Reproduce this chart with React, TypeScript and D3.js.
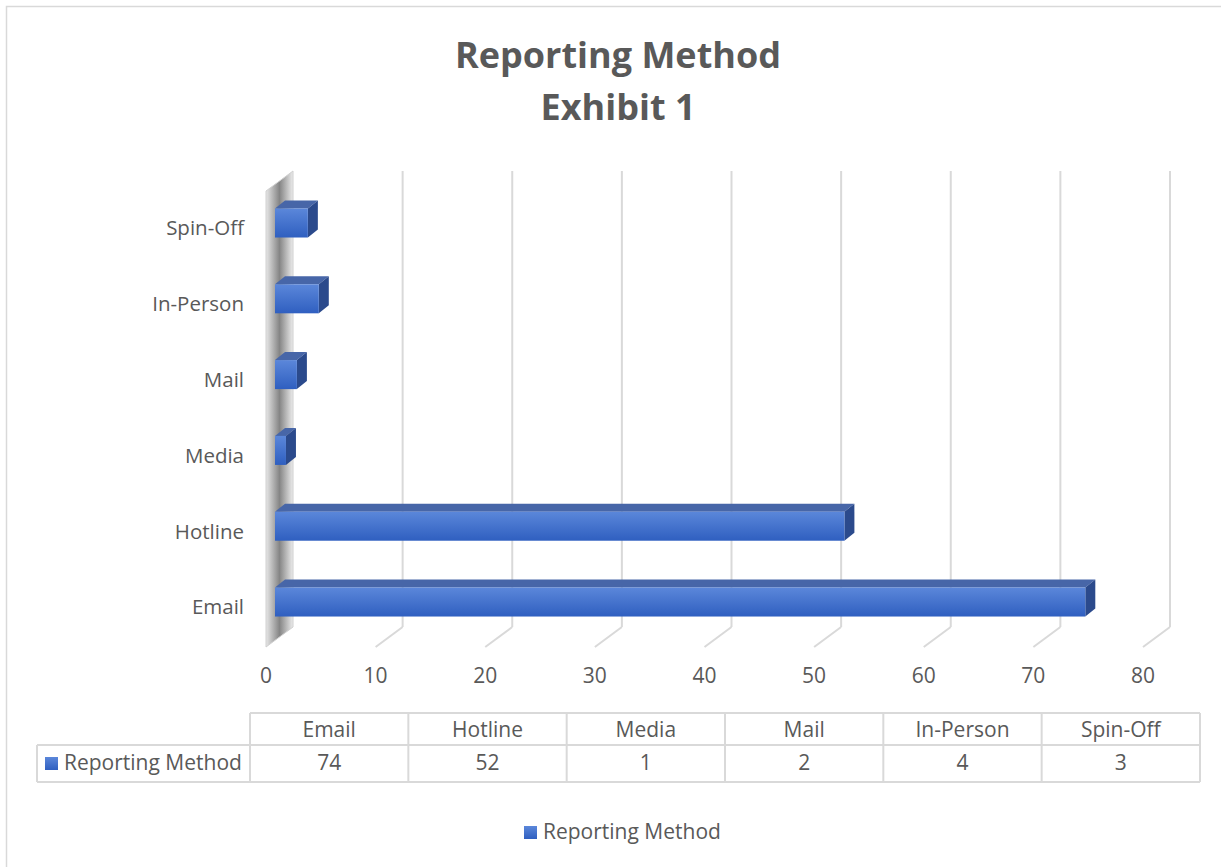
import React from "react";
import * as d3 from "d3";

const categories = ["Email", "Hotline", "Media", "Mail", "In-Person", "Spin-Off"];
const values = [74, 52, 1, 2, 4, 3];
const seriesName = "Reporting Method";
const ticks = [0, 10, 20, 30, 40, 50, 60, 70, 80];
const titleLines = ["Reporting Method", "Exhibit 1"];

const W = 1221;
const H = 867;
const FONT = "'Open Sans', Lato, sans-serif";
const TEXT = "#595959";
const GRID = "#d9d9d9";

// 3d offsets: front plane relative to back wall
const DX = -27;
const DY = 20;
const backTop = 171;
const backBottom = 627;

const App: React.FC = () => {
	const xBack = d3.scaleLinear().domain([0, 80]).range([293, 1170]);
	const xBar = d3.scaleLinear().domain([0, 80]).range([275, 1151]);
	const y = d3
		.scaleBand<string>()
		.domain([...categories].reverse())
		.range([161.7, 663.3])
		.paddingInner(0.617)
		.paddingOuter(0.617);
	const bw = y.bandwidth();
	const bdx = 10;
	const bdy = -8;

	const tableLeft = 250;
	const tableRight = 1200;
	const col = d3.scaleBand<string>().domain(categories).range([tableLeft, tableRight]);
	const rowTop = 713;
	const rowMid = 745;
	const rowBot = 782;

	const wallPath = `M${xBack(0)},${backTop} L${xBack(0)},${backBottom} L${xBack(0) + DX},${backBottom + DY} L${xBack(0) + DX},${backTop + DY} Z`;

	return (
		<svg
			width={W}
			height={H}
			style={{ position: "absolute", left: 0, top: 0, background: "#fff" }}
			fontFamily={FONT}
		>
			<defs>
				<linearGradient id="wall" x1="0" x2="1" y1="0" y2="0">
					<stop offset="0" stopColor="#e6e6e6" />
					<stop offset="0.5" stopColor="#858585" />
					<stop offset="1" stopColor="#ebebeb" />
				</linearGradient>
				<linearGradient id="barFront" x1="0" x2="0" y1="0" y2="1">
					<stop offset="0" stopColor="#5b87da" />
					<stop offset="1" stopColor="#2f5fc0" />
				</linearGradient>
				<linearGradient id="key" x1="0" x2="0" y1="0" y2="1">
					<stop offset="0" stopColor="#5b87da" />
					<stop offset="1" stopColor="#2f5fc0" />
				</linearGradient>
			</defs>

			<rect x={6.5} y={6.5} width={W + 10} height={H + 10} fill="none" stroke={GRID} strokeWidth={1.5} />

			{titleLines.map((t, i) => (
				<text
					key={t}
					x={618}
					y={68 + i * 52}
					textAnchor="middle"
					fontSize={36}
					fontWeight="bold"
					fill={TEXT}
				>
					{t}
				</text>
			))}

			{/* gridlines on back wall and floor */}
			{ticks.slice(1).map((t) => (
				<g key={t} stroke={GRID} strokeWidth={2} fill="none">
					<line x1={xBack(t)} x2={xBack(t)} y1={backTop} y2={backBottom} />
					<line x1={xBack(t)} x2={xBack(t) + DX} y1={backBottom} y2={backBottom + DY} />
				</g>
			))}

			{/* side wall */}
			<path d={wallPath} fill="url(#wall)" stroke="#d0d0d0" strokeWidth={1} />

			{/* bars */}
			{categories.map((c, i) => {
				const x0 = xBar(0);
				const x1 = xBar(values[i]);
				const y0 = y(c)!;
				return (
					<g key={c}>
						<path
							d={`M${x0},${y0} L${x0 + bdx},${y0 + bdy} L${x1 + bdx},${y0 + bdy} L${x1},${y0} Z`}
							fill="#4766a8"
						/>
						<path
							d={`M${x1},${y0} L${x1 + bdx},${y0 + bdy} L${x1 + bdx},${y0 + bw + bdy} L${x1},${y0 + bw} Z`}
							fill="#2b4a8c"
						/>
						<rect x={x0} y={y0} width={x1 - x0} height={bw} fill="url(#barFront)" />
					</g>
				);
			})}

			{/* category labels */}
			{categories.map((c) => (
				<text
					key={c}
					x={244}
					y={y(c)! + bw / 2 + 7}
					textAnchor="end"
					dominantBaseline="middle"
					fontSize={20.5}
					fill={TEXT}
				>
					{c}
				</text>
			))}

			{/* value axis labels */}
			{ticks.map((t) => (
				<text
					key={t}
					x={xBack(t) + DX}
					y={677}
					textAnchor="middle"
					dominantBaseline="middle"
					fontSize={21}
					fill={TEXT}
				>
					{t}
				</text>
			))}

			{/* data table */}
			<g stroke={GRID} strokeWidth={2} fill="none">
				<line x1={tableLeft} x2={tableRight} y1={rowTop} y2={rowTop} />
				<line x1={37} x2={tableRight} y1={rowMid} y2={rowMid} />
				<line x1={37} x2={tableRight} y1={rowBot} y2={rowBot} />
				<line x1={37} x2={37} y1={rowMid} y2={rowBot} />
				{categories.map((c) => (
					<line key={c} x1={col(c)!} x2={col(c)!} y1={rowTop} y2={rowBot} />
				))}
				<line x1={tableRight} x2={tableRight} y1={rowTop} y2={rowBot} />
			</g>
			{categories.map((c, i) => (
				<g key={c} fontSize={21} fill={TEXT} textAnchor="middle">
					<text x={col(c)! + col.bandwidth() / 2} y={(rowTop + rowMid) / 2 + 2} dominantBaseline="middle">
						{c}
					</text>
					<text x={col(c)! + col.bandwidth() / 2} y={(rowMid + rowBot) / 2 + 1} dominantBaseline="middle">
						{values[i]}
					</text>
				</g>
			))}
			<rect x={45} y={757} width={13} height={13} fill="url(#key)" />
			<text x={64} y={764} dominantBaseline="middle" fontSize={21} fill={TEXT}>
				{seriesName}
			</text>

			{/* legend */}
			<rect x={524} y={826} width={13} height={13} fill="url(#key)" />
			<text x={543} y={833} dominantBaseline="middle" fontSize={21} fill={TEXT}>
				{seriesName}
			</text>
		</svg>
	);
};

export default App;
